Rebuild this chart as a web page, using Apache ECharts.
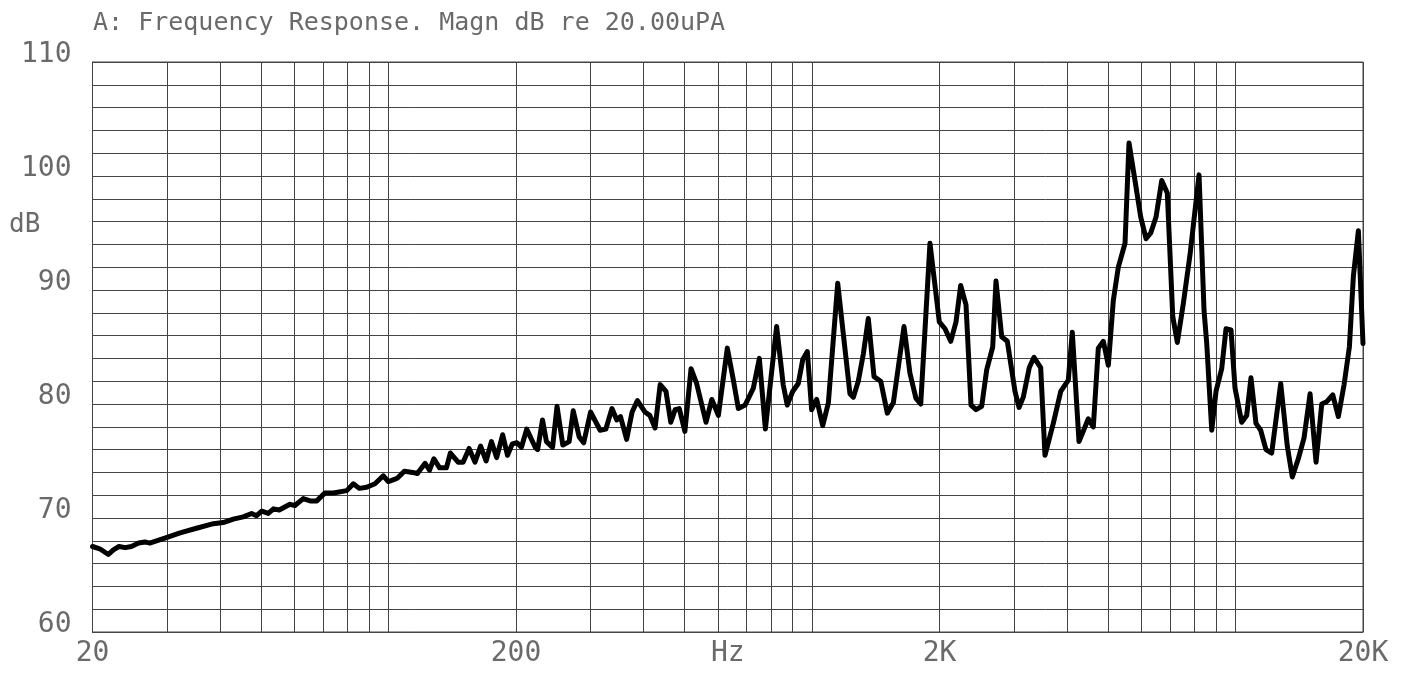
<!DOCTYPE html>
<html><head><meta charset="utf-8">
<script src="https://cdn.jsdelivr.net/npm/echarts@6/dist/echarts.min.js"></script>
<style>html,body{margin:0;padding:0;background:#fff}#c{width:1409px;height:673px}</style>
</head><body><div id="c"></div>
<script>
// Frequency (Hz) of each plotted point
const freqs = [20,20.8,21.8,22.4,23.1,23.9,24.7,25.7,26.6,27.3,28.9,30.0,32.2,35.2,38.6,40.7,43.0,45.4,47.5,48.8,
50.2,52.0,53.5,55.2,58.5,60.1,62.9,65.3,67.7,70.8,74.1,79.7,82.6,85.3,88.8,92.9,97.2,99.9,103.6,105,
109,114,117,122,125,128,132,137,140,146,150,155,160,165,170,175,180,186,191,196,
201,206,212,222,225,231,236,244,250,258,267,273,282,289,300,316,326,337,346,353,
365,376,387,403,414,426,438,452,464,475,486,501,518,534,562,580,601,631,652,670,
695,727,751,776,825,855,874,900,928,951,975,998,1026,1060,1093,1150,1185,1229,1252,1286,
1322,1358,1401,1453,1506,1556,1649,1703,1760,1806,1899,1998,2061,2126,2188,2244,2310,2374,2439,2516,
2585,2671,2719,2805,2892,3015,3082,3154,3259,3343,3467,3549,3713,3866,4029,4117,4270,4492,4616,4743,
4874,5008,5146,5288,5484,5604,5790,5973,6148,6307,6491,6695,6902,7108,7288,7529,7809,8201,8427,8552,
8787,8994,9277,9496,9758,9973,10341,10626,10877,11177,11466,11802,12173,12785,13252,13618,14069,14512,14998,15495,
15982,16423,16968,17493,18044,18573,18979,19502,20000];
// Magnitude (dB re 20 uPa)
const levels = [67.5,67.3,66.8,67.2,67.5,67.4,67.5,67.8,67.9,67.8,68.1,68.3,68.7,69.1,69.5,69.6,69.9,70.1,70.4,70.2,
70.6,70.4,70.8,70.7,71.2,71.1,71.7,71.5,71.5,72.2,72.2,72.4,73.0,72.6,72.7,73.0,73.7,73.2,73.4,73.5,
74.1,74.0,73.9,74.8,74.2,75.2,74.4,74.4,75.7,74.9,74.9,76.1,74.9,76.3,75.0,76.7,75.3,77.3,75.5,76.5,
76.6,76.2,77.8,76.2,76.0,78.6,76.7,76.2,79.8,76.4,76.7,79.4,77.1,76.6,79.3,77.7,77.8,79.6,78.6,78.9,
76.9,79.3,80.3,79.3,79.0,77.9,81.7,81.1,78.4,79.5,79.6,77.6,83.1,81.8,78.4,80.4,79.0,84.9,82.1,79.6,
79.9,81.4,84.0,77.8,86.8,81.7,79.9,81.1,81.8,83.9,84.6,79.5,80.4,78.1,80.1,90.6,86.2,80.9,80.6,82.0,
84.4,87.5,82.4,82.0,79.2,80.1,86.8,82.7,80.5,80.0,94.1,87.2,86.6,85.5,87.2,90.4,88.7,79.9,79.5,79.8,
83.0,85.0,90.8,85.9,85.5,81.1,79.7,80.6,83.2,84.1,83.2,75.5,78.3,81.1,82.1,86.3,76.7,78.7,78.0,84.9,
85.5,83.4,89.1,92.0,94.1,102.9,99.6,96.4,94.5,95.0,96.4,99.6,98.5,87.7,85.4,88.8,93.1,100.1,88.2,85.3,
77.7,81.1,83.1,86.6,86.5,81.4,78.4,79.0,82.3,78.3,77.7,76.0,75.7,81.8,76.3,73.6,75.2,77.0,80.9,74.9,
80.0,80.2,80.8,78.9,81.7,85.0,91.2,95.2,85.3];
// Vertical grid frequencies
const gridFreqs = [20,30,40,50,60,70,80,90,100,200,300,400,500,600,700,800,900,1000,
2000,3000,4000,5000,6000,7000,8000,9000,10000,20000];
const xTickValues = [20,200,2000,20000];
const xTickTexts = ['20','200','2K','20K'];
const titleText = 'A: Frequency Response. Magn dB re 20.00uPA';
const xName = 'Hz';
const yName = 'dB';

const FONT = "'DejaVu Sans Mono', monospace";
const TXT = '#6a6a6a';
const GRID = '#444';

const chart = echarts.init(document.getElementById('c'), null, {renderer: 'canvas'});
const seriesData = freqs.map((f, i) => [f, levels[i]]);

chart.setOption({
  animation: false,
  backgroundColor: '#fff',
  grid: {left: 92.5, right: 46, top: 62, bottom: 41, show: true, borderColor: GRID, borderWidth: 1,
         containLabel: false, outerBoundsMode: 'none'},
  graphic: [
    {type: 'text', left: 93, top: 11, style: {text: titleText, font: '25px ' + FONT, fill: TXT}},
    {type: 'text', left: 9, top: 212, style: {text: yName, font: '26px ' + FONT, fill: TXT}},
    {type: 'text', x: 727.75, y: 640, style: {text: xName, font: '28px ' + FONT, fill: TXT, align: 'center', verticalAlign: 'top'}}
  ],
  xAxis: {
    type: 'log', logBase: 10, min: 20, max: 20000,
    axisLine: {show: true, lineStyle: {color: GRID, width: 1}},
    axisTick: {show: false, customValues: gridFreqs},
    splitLine: {show: true, lineStyle: {color: GRID, width: 1}},
    minorSplitLine: {show: false},
    axisLabel: {
      customValues: xTickValues, margin: 8,
      fontFamily: FONT, fontSize: 28, color: TXT, lineHeight: 28,
      formatter: function (v) {
        for (let i = 0; i < xTickValues.length; i++) {
          if (Math.abs(Math.log10(v / xTickValues[i])) < 0.01) return xTickTexts[i];
        }
        return '';
      }
    }
  },
  yAxis: {
    type: 'value', min: 60, max: 110, interval: 10,
    axisLine: {show: true, lineStyle: {color: GRID, width: 1}},
    axisTick: {show: false},
    splitLine: {show: true, lineStyle: {color: GRID, width: 1}},
    minorTick: {show: false, splitNumber: 5},
    minorSplitLine: {show: true, lineStyle: {color: GRID, width: 1}},
    axisLabel: {margin: 21, fontFamily: FONT, fontSize: 28, color: TXT, verticalAlign: 'bottom', lineHeight: 14}
  },
  series: [{
    type: 'line', data: seriesData, showSymbol: false, symbol: 'none',
    lineStyle: {color: '#000', width: 5, join: 'round', cap: 'round'},
    z: 5, silent: true
  }]
});
</script>
</body></html>
